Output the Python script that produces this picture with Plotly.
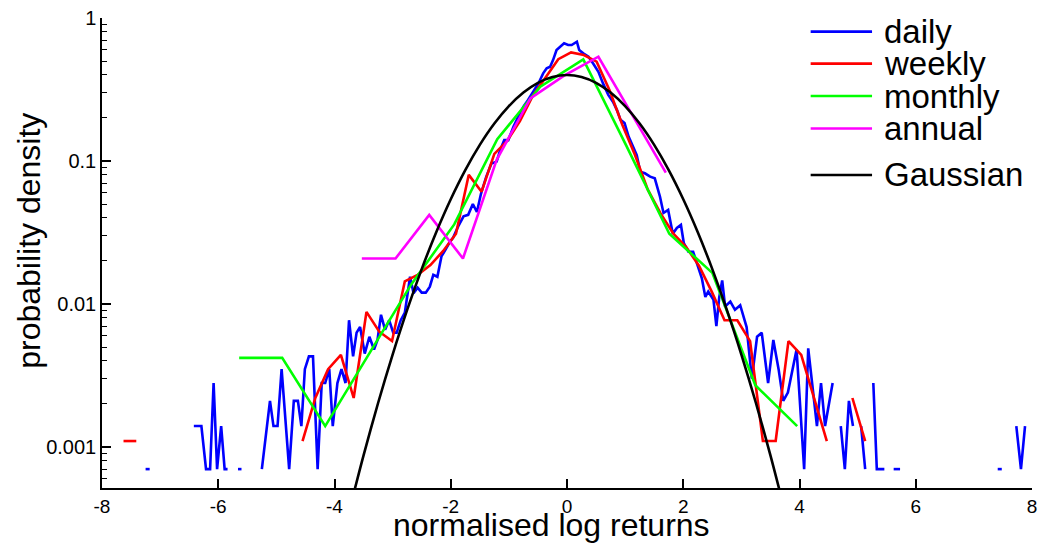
import plotly.graph_objects as go

# ---------------- data ----------------
daily_x = [-7.25, -7.18, None,
           -6.42, -6.36, -6.29, -6.21, -6.14, -6.08, -6.02, -5.95, -5.89, -5.84, None,
           -5.66, -5.60, None,
           -5.25, -5.11, -5.05, -4.98, -4.91, -4.78, -4.70, -4.63, -4.57, -4.51, -4.44, -4.37,
           -4.29, -4.22, -4.16, -4.09, -4.03, -3.95, -3.88, -3.81, -3.75, -3.68, -3.62, -3.56,
           -3.48, -3.40, -3.32, -3.26, -3.20, -3.13, -3.06, -2.99, -2.93, -2.86, -2.79,
           -2.70, -2.64, -2.57, -2.50, -2.43, -2.36, -2.30, -2.23, -2.16, -2.09, -2.02, -1.96,
           -1.87, -1.78, -1.70, -1.62, -1.55, -1.48, -1.39, -1.30, -1.21, -1.15, -1.08, -1.01,
           -0.92, -0.84, -0.75, -0.67, -0.58, -0.49, -0.41, -0.35, -0.29, -0.24, -0.18, -0.12,
           -0.05, 0.02, 0.08, 0.17, 0.21, 0.28, 0.37, 0.45, 0.54, 0.62, 0.71, 0.79, 0.86, 0.92,
           0.99, 1.06, 1.14, 1.20, 1.26, 1.34, 1.43, 1.51, 1.60, 1.66, 1.74, 1.82, 1.89, 1.96,
           2.01, 2.09, 2.17, 2.24, 2.32, 2.38, 2.43, 2.52, 2.57, 2.62, 2.67, 2.72, 2.81, 2.89,
           2.98, 3.09, 3.18, 3.27, 3.35, 3.46, 3.55, 3.64, 3.72, 3.80, 3.87, 3.95, 4.08, 4.15,
           4.30, 4.37, 4.44, 4.51, 4.57, None,
           4.71, 4.78, 4.85, 4.92, None,
           5.06, 5.13, None,
           5.27, 5.33, 5.39, 5.46, None,
           5.62, 5.68, 5.73, None,
           7.41, 7.48, None,
           7.73, 7.81, 7.88]
daily_y = [0.0007, 0.0007, None,
           0.0014, 0.0014, 0.0014, 0.0007, 0.0007, 0.0028, 0.0007, 0.0014, 0.0007, 0.0007, None,
           0.0007, 0.0007, None,
           0.0007, 0.0021, 0.0014, 0.0014, 0.0035, 0.0007, 0.0021, 0.0021, 0.0014, 0.0035, 0.0043, 0.0043,
           0.0007, 0.0028, 0.0028, 0.0035, 0.0014, 0.0028, 0.0035, 0.0028, 0.0077, 0.0043, 0.0063, 0.0069,
           0.0045, 0.0059, 0.0048, 0.0056, 0.0084, 0.0066, 0.0077, 0.0063, 0.0063, 0.0077, 0.0087,
           0.0155, 0.0119, 0.0130, 0.0120, 0.0120, 0.0132, 0.0160, 0.0155, 0.0215, 0.0240, 0.0270, 0.0290,
           0.035, 0.041, 0.042, 0.050, 0.044, 0.059, 0.0775, 0.096, 0.099, 0.119, 0.140, 0.140,
           0.174, 0.204, 0.240, 0.267, 0.305, 0.350, 0.410, 0.445, 0.456, 0.508, 0.597, 0.630,
           0.665, 0.648, 0.647, 0.683, 0.597, 0.566, 0.536, 0.480, 0.420, 0.349, 0.290, 0.260, 0.227, 0.194,
           0.184, 0.148, 0.126, 0.110, 0.084, 0.082, 0.0777, 0.0757, 0.0562, 0.0433, 0.0455, 0.031, 0.034, 0.0357,
           0.0266, 0.0232, 0.0232, 0.0193, 0.0151, 0.0112, 0.0122, 0.0107, 0.0070, 0.0112, 0.0146, 0.0096, 0.0104, 0.0091,
           0.0098, 0.0069, 0.0030, 0.0059, 0.0063, 0.0028, 0.0056, 0.0035, 0.0021, 0.0024, 0.0033, 0.0048, 0.0007, 0.0049,
           0.0014, 0.0028, 0.0014, 0.0021, 0.0028, None,
           0.0014, 0.0007, 0.0021, 0.0014, None,
           0.0014, 0.0007, None,
           0.0028, 0.0007, 0.0007, 0.0007, None,
           0.0007, 0.0007, 0.0007, None,
           0.0007, 0.0007, None,
           0.0014, 0.0007, 0.0014]

weekly_x = [-7.63, -7.41, None,
            -4.55, -4.33, -4.11, -3.89, -3.67, -3.45, -3.23, -3.01, -2.79, -2.57, -2.35, -2.13,
            -1.91, -1.69, -1.47, -1.25, -1.03, -0.81, -0.59, -0.37, -0.15, 0.07, 0.29, 0.51,
            0.73, 0.95, 1.17, 1.39, 1.61, 1.83, 2.05, 2.27, 2.49, 2.71, 2.93, 3.15, 3.37, 3.59,
            3.81, 4.03, 4.25, 4.47, None,
            4.91, 5.13]
weekly_y = [0.0011, 0.0011, None,
            0.0011, 0.0022, 0.0035, 0.0044, 0.0022, 0.0088, 0.0064, 0.0055, 0.0144, 0.0160, 0.0187, 0.0235,
            0.031, 0.080, 0.061, 0.112, 0.138, 0.190, 0.285, 0.385, 0.515, 0.575, 0.551, 0.495,
            0.314, 0.180, 0.110, 0.063, 0.043, 0.031, 0.025, 0.0185, 0.0122, 0.0077, 0.0077, 0.0055, 0.0011, 0.0011,
            0.0055, 0.0044, 0.0022, 0.0011, None,
            0.0022, 0.0011]

monthly_x = [-5.64, -4.90, -4.16, -3.42, -2.68, -1.94, -1.20, -0.46, 0.28, 1.02, 1.76, 2.50, 3.24, 3.96]
monthly_y = [0.0042, 0.0042, 0.0014, 0.0044, 0.0137, 0.036, 0.142, 0.331, 0.514, 0.128, 0.031, 0.0165, 0.0027, 0.0014]

annual_x = [-3.53, -2.95, -2.37, -1.79, -1.21, -0.63, -0.05, 0.54, 1.12, 1.70]
annual_y = [0.0208, 0.0208, 0.042, 0.0208, 0.102, 0.274, 0.395, 0.536, 0.211, 0.083]

gauss_x = [-3.75, -3.5, -3.25, -3.0, -2.75, -2.5, -2.25, -2.0, -1.75, -1.5, -1.25, -1.0, -0.75, -0.5, -0.25,
           0.0, 0.25, 0.5, 0.75, 1.0, 1.25, 1.5, 1.75, 2.0, 2.25, 2.5, 2.75, 3.0, 3.25, 3.5, 3.75]
gauss_y = [0.000353, 0.000873, 0.00203, 0.00443, 0.00909, 0.01753, 0.03174, 0.05399, 0.08628, 0.12952,
           0.18265, 0.24197, 0.30114, 0.35207, 0.38667, 0.39894, 0.38667, 0.35207, 0.30114, 0.24197,
           0.18265, 0.12952, 0.08628, 0.05399, 0.03174, 0.01753, 0.00909, 0.00443, 0.00203, 0.000873, 0.000353]

x_ticks = [-8, -6, -4, -2, 0, 2, 4, 6, 8]
y_ticks = [0.001, 0.01, 0.1, 1]
y_tick_text = ["0.001", "0.01", "0.1", "1"]

series = [
    ("daily", daily_x, daily_y, "#0000FF"),
    ("weekly", weekly_x, weekly_y, "#FF0000"),
    ("monthly", monthly_x, monthly_y, "#00FF00"),
    ("annual", annual_x, annual_y, "#FF00FF"),
    ("Gaussian", gauss_x, gauss_y, "#000000"),
]

FONT = "Liberation Sans, Arial, sans-serif"

fig = go.Figure()
for name, xs, ys, col in series:
    fig.add_trace(go.Scatter(
        x=xs, y=ys, mode="lines", name=name,
        line=dict(color=col, width=2.6,
                  shape="spline" if name == "Gaussian" else "linear",
                  smoothing=0.8 if name == "Gaussian" else None),
        connectgaps=False, showlegend=False,
    ))

# manual legend (line samples + labels), in paper coordinates
leg_y = [0.971, 0.903, 0.834, 0.765, 0.666]
for (name, _, _, col), ly in zip(series, leg_y):
    fig.add_shape(type="line", xref="paper", yref="paper",
                  x0=0.762, x1=0.828, y0=ly, y1=ly,
                  line=dict(color=col, width=2.6))
    fig.add_annotation(xref="paper", yref="paper", x=0.839, y=ly,
                       text=name, showarrow=False, xanchor="left", yanchor="middle",
                       font=dict(family=FONT, size=33, color="black"))

# axis titles
fig.add_annotation(xref="paper", yref="paper", x=0.483, y=-0.0795,
                   text="normalised log returns", showarrow=False,
                   xanchor="center", yanchor="middle",
                   font=dict(family=FONT, size=32, color="black"))
fig.add_annotation(xref="paper", yref="paper", x=-0.0785, y=0.526,
                   text="probability density", showarrow=False, textangle=-90,
                   xanchor="center", yanchor="middle",
                   font=dict(family=FONT, size=32, color="black"))

minor_vals = [m * 10 ** e for e in (-4, -3, -2, -1) for m in range(2, 10)]

fig.update_layout(
    width=1042, height=546,
    margin=dict(l=102, r=10, t=18, b=58),
    paper_bgcolor="white", plot_bgcolor="white",
    font=dict(family=FONT, color="black"),
    showlegend=False,
)
fig.update_xaxes(
    range=[-8, 8], tickvals=x_ticks, ticktext=[str(v) for v in x_ticks],
    showgrid=False, zeroline=False, showline=True, linecolor="black", linewidth=1.5,
    ticks="inside", ticklen=9, tickwidth=1.5, tickcolor="black",
    tickfont=dict(family=FONT, size=19, color="black"),
    automargin=False,
)
fig.update_yaxes(
    type="log", range=[-3.287, 0],
    tickvals=y_ticks, ticktext=y_tick_text,
    showgrid=False, zeroline=False, showline=True, linecolor="black", linewidth=1.5,
    ticks="inside", ticklen=9, tickwidth=1.5, tickcolor="black",
    tickfont=dict(family=FONT, size=20, color="black"),
    minor=dict(tickvals=minor_vals, ticks="inside", ticklen=5, tickwidth=1, tickcolor="black", showgrid=False),
    automargin=False,
)

fig.write_html("out.html")
